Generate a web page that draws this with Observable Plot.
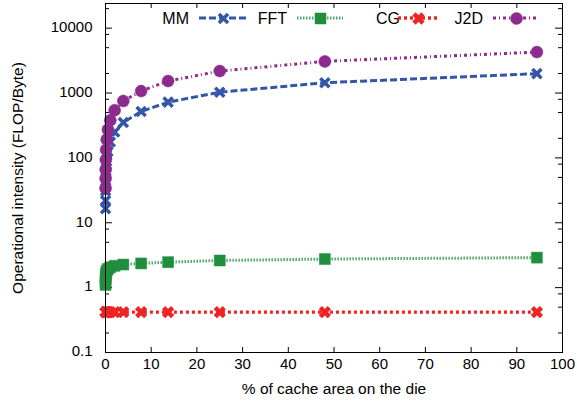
<!DOCTYPE html>
<html><head><meta charset="utf-8">
<script src="https://cdn.jsdelivr.net/npm/d3@7"></script>
<script src="https://cdn.jsdelivr.net/npm/@observablehq/plot@0.6"></script>
<style>body{margin:0;background:#fff}</style>
</head><body><div id="chart"></div>
<script>
// ---- data ----
const cachePct = [94.4, 48, 25, 13.7, 7.8, 3.9, 2.0, 1.05, 0.53, 0.27, 0.13, 0.07, 0.035, 0.017, 0.009];
const mmIntensity  = [1990, 1440, 1030, 724, 520, 352, 250, 176, 125, 88, 62, 44, 31, 22, 16.5];
const fftIntensity = [2.9, 2.76, 2.62, 2.47, 2.36, 2.27, 2.17, 2.06, 1.94, 1.82, 1.68, 1.54, 1.39, 1.24, 1.1];
const cgIntensity  = [0.42, 0.42, 0.42, 0.42, 0.42, 0.42, 0.42, 0.42, 0.42, 0.42, 0.42, 0.42, 0.42, 0.42, 0.42];
const j2dIntensity = [4280, 3075, 2180, 1530, 1070, 755, 543, 380, 273, 192, 134, 94, 66, 48, 34];
const seriesNames = ["MM", "FFT", "CG", "J2D"];
const xTicks = [0, 10, 20, 30, 40, 50, 60, 70, 80, 90, 100];
const yMajorTicks = [0.1, 1, 10, 100, 1000, 10000];
const yTickLabels = ["0.1", "1", "10", "100", "1000", "10000"];
const yMinorTicks = [0.2, 0.5, 0.8, 2, 5, 8, 20, 50, 80, 200, 500, 800, 2000, 5000, 8000, 20000];
const xTitle = "% of cache area on the die";
const yTitle = "Operational intensity (FLOP/Byte)";

// ---- styles ----
const styles = {
  MM:  {stroke: "#3356a8", dash: "7,3",     width: 3,   symbol: "times",  r: 4.2, markFill: "none",    markStroke: "#3356a8", markWidth: 3.5},
  FFT: {stroke: "#4fa865", dash: "1.5,1.5", width: 3,   symbol: "square", r: 6.2, markFill: "#1f8f3e", markStroke: "#1f8f3e", markWidth: 0.5},
  CG:  {stroke: "#ee2424", dash: "3,3",     width: 3.3, symbol: "times",  r: 4.2, markFill: "none",    markStroke: "#ee2424", markWidth: 4.5},
  J2D: {stroke: "#8c2a8e", dash: "3,3,1,3", width: 3,   symbol: "circle", r: 6,   markFill: "#8c2a8e", markStroke: "#8c2a8e", markWidth: 0.5}
};
const values = {MM: mmIntensity, FFT: fftIntensity, CG: cgIntensity, J2D: j2dIntensity};
const rows = seriesNames.map(name => cachePct.map((x, i) => ({name, x, y: values[name][i]})));

const W = 577, H = 408, mL = 105, mR = 15, mT = 3, mB = 56;
const innerW = W - mL - mR, innerH = H - mT - mB;
const font = "'Liberation Sans', Arial, Helvetica, sans-serif";

const seriesMarks = rows.flatMap((data, k) => {
  const s = styles[seriesNames[k]];
  return [
    Plot.line(data, {x: "x", y: "y", stroke: s.stroke, strokeWidth: s.width, strokeDasharray: s.dash,
                     strokeLinecap: "butt", strokeLinejoin: "miter"}),
    Plot.dot(data, {x: "x", y: "y", symbol: s.symbol, r: s.r, fill: s.markFill, stroke: s.markStroke, strokeWidth: s.markWidth})
  ];
});

const svg = Plot.plot({
  width: W, height: H,
  marginLeft: mL, marginRight: mR, marginTop: mT, marginBottom: mB,
  style: {fontFamily: font, fontSize: "15px", background: "#fff", color: "#000"},
  x: {domain: [0, 100], axis: null},
  y: {type: "log", domain: [0.1, 24000], axis: null},
  marks: [
    // tick marks (inward, mirrored)
    Plot.ruleX(xTicks, {x: d => d, insetTop: innerH - 5, stroke: "#000"}),
    Plot.ruleX(xTicks, {x: d => d, insetBottom: innerH - 5, stroke: "#000"}),
    Plot.ruleY(yMajorTicks, {y: d => d, insetRight: innerW - 7, stroke: "#000"}),
    Plot.ruleY(yMajorTicks, {y: d => d, insetLeft: innerW - 7, stroke: "#000"}),
    Plot.ruleY(yMinorTicks, {y: d => d, insetRight: innerW - 4, stroke: "#000"}),
    Plot.ruleY(yMinorTicks, {y: d => d, insetLeft: innerW - 4, stroke: "#000"}),
    ...seriesMarks,
    Plot.frame({stroke: "#000", strokeWidth: 1}),
    // tick labels
    Plot.text(xTicks, {x: d => d, text: d => String(d), frameAnchor: "bottom", dy: 16, fontSize: 15}),
    Plot.text(yMajorTicks, {y: d => d, text: (d, i) => yTickLabels[i], frameAnchor: "left", dx: -13, dy: -1, textAnchor: "end", fontSize: 15}),
    // titles
    Plot.text([xTitle], {text: d => d, frameAnchor: "bottom", dy: 41, textAnchor: "middle", fontSize: 15.5}),
    Plot.text([yTitle], {text: d => d, frameAnchor: "left", rotate: -90, dx: -87, textAnchor: "middle", fontSize: 15.5})
  ]
});

// ---- legend (inside the plot, top row) ----
const legendLayout = {
  MM:  {textEnd: 189, x1: 199, x2: 247, mx: 223},
  FFT: {textEnd: 287, x1: 297, x2: 343, mx: 320},
  CG:  {textEnd: 400, x1: 398, x2: 439, mx: 418},
  J2D: {textEnd: 483, x1: 493, x2: 538, mx: 516}
};
const legendY = 18;
const g = d3.select(svg).append("g").attr("font-family", font).attr("font-size", 16);
for (const name of seriesNames) {
  const s = styles[name], L = legendLayout[name];
  g.append("text").attr("x", L.textEnd).attr("y", legendY).attr("dy", "0.35em")
    .attr("text-anchor", "end").text(name);
  g.append("line").attr("x1", L.x1).attr("x2", L.x2).attr("y1", legendY).attr("y2", legendY)
    .attr("stroke", s.stroke).attr("stroke-width", s.width).attr("stroke-dasharray", s.dash);
}
// legend markers: reuse Plot's own rendered dot glyph for each series
const dotGroups = svg.querySelectorAll("g[aria-label='dot']");
seriesNames.forEach((name, k) => {
  const grp = dotGroups[k];
  if (!grp) return;
  const p = grp.querySelector("path, circle");
  if (!p) return;
  const clone = grp.cloneNode(false);
  const pc = p.cloneNode(true);
  pc.removeAttribute("cx"); pc.removeAttribute("cy");
  pc.setAttribute("transform", `translate(${legendLayout[name].mx},${legendY})`);
  clone.appendChild(pc);
  svg.appendChild(clone);
});
document.getElementById("chart").appendChild(svg);
</script>
</body></html>
